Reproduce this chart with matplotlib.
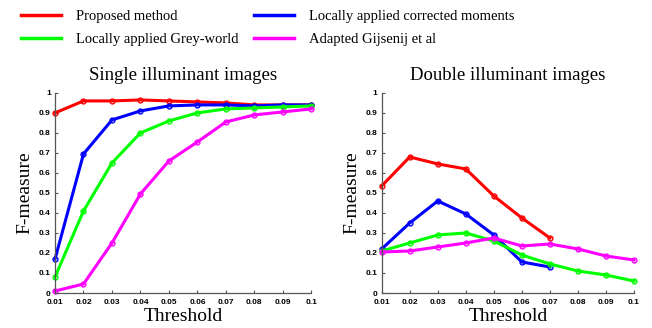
import matplotlib
matplotlib.use("Agg")
import matplotlib.pyplot as plt
from matplotlib.lines import Line2D

thresholds = [0.01, 0.02, 0.03, 0.04, 0.05, 0.06, 0.07, 0.08, 0.09, 0.1]
tick_labels = ["0.01", "0.02", "0.03", "0.04", "0.05", "0.06", "0.07", "0.08", "0.09", "0.1"]
ytick_vals = [0, 0.1, 0.2, 0.3, 0.4, 0.5, 0.6, 0.7, 0.8, 0.9, 1]
ytick_labels = ["0", "0.1", "0.2", "0.3", "0.4", "0.5", "0.6", "0.7", "0.8", "0.9", "1"]

names = ["Proposed method", "Locally applied corrected moments",
         "Locally applied Grey-world", "Adapted Gijsenij et al"]
colors = ["#ff0000", "#0000ff", "#00ff00", "#ff00ff"]

single_proposed = [0.90, 0.96, 0.96, 0.965, 0.96, 0.955, 0.95, 0.94, 0.94, 0.94]
single_moments = [0.17, 0.695, 0.865, 0.91, 0.935, 0.94, 0.94, 0.935, 0.94, 0.94]
single_grey = [0.08, 0.41, 0.65, 0.80, 0.86, 0.90, 0.92, 0.925, 0.93, 0.935]
single_gijsenij = [0.01, 0.045, 0.25, 0.495, 0.66, 0.755, 0.855, 0.89, 0.905, 0.92]

double_proposed = [0.535, 0.68, 0.645, 0.62, 0.485, 0.375, 0.275]
double_moments = [0.22, 0.35, 0.46, 0.395, 0.29, 0.155, 0.13]
double_grey = [0.21, 0.25, 0.29, 0.30, 0.26, 0.19, 0.145, 0.11, 0.09, 0.06]
double_gijsenij = [0.205, 0.21, 0.23, 0.25, 0.275, 0.235, 0.245, 0.22, 0.185, 0.165]

serif = "Liberation Serif"

fig = plt.figure(figsize=(6.52, 3.28), dpi=100)
ax1 = fig.add_axes([0.0844, 0.1067, 0.393, 0.61])
ax2 = fig.add_axes([0.5854, 0.1067, 0.387, 0.61])

def draw(ax, series, title):
    for vals, c in series:
        ax.plot(thresholds[:len(vals)], vals, color=c, lw=2.2, marker="o",
                ms=3.5, mfc="none", mec=c, mew=1.0, clip_on=False)
    ax.set_xlim(0.01, 0.1)
    ax.set_ylim(0, 1)
    ax.set_xticks(thresholds)
    ax.set_xticklabels(tick_labels)
    ax.set_yticks(ytick_vals)
    ax.set_yticklabels(ytick_labels)
    for lab in ax.get_xticklabels() + ax.get_yticklabels():
        lab.set_fontfamily("Liberation Sans")
        lab.set_fontweight("bold")
        lab.set_fontsize(6)
    ax.tick_params(direction="in", length=2.5, width=0.8, color="#555555")
    ax.tick_params(axis="x", pad=4)
    ax.tick_params(axis="y", pad=3)
    ax.spines["top"].set_visible(False)
    ax.spines["right"].set_visible(False)
    for s in ("left", "bottom"):
        ax.spines[s].set_linewidth(0.9)
        ax.spines[s].set_color("#555555")
    ax.set_xlabel("Threshold", fontfamily=serif, fontsize=14, labelpad=2)
    ax.set_ylabel("F-measure", fontfamily=serif, fontsize=14, labelpad=4)
    ax.set_title(title, fontfamily=serif, fontsize=13.5, pad=9)

draw(ax1, [(single_proposed, colors[0]), (single_moments, colors[1]),
           (single_grey, colors[2]), (single_gijsenij, colors[3])],
     "Single illuminant images")
draw(ax2, [(double_proposed, colors[0]), (double_moments, colors[1]),
           (double_grey, colors[2]), (double_gijsenij, colors[3])],
     "Double illuminant images")

order = [0, 2, 1, 3]
handles = [Line2D([], [], color=colors[i], lw=2.5) for i in order]
labels = [names[i] for i in order]
fig.legend(handles, labels, ncol=2, frameon=False, loc="upper left",
           bbox_to_anchor=(0.012, 1.01), prop={"family": serif, "size": 10.5},
           handlelength=2.75, columnspacing=1.1, labelspacing=0.7, handletextpad=1.0)

fig.savefig("out.png", dpi=100)
